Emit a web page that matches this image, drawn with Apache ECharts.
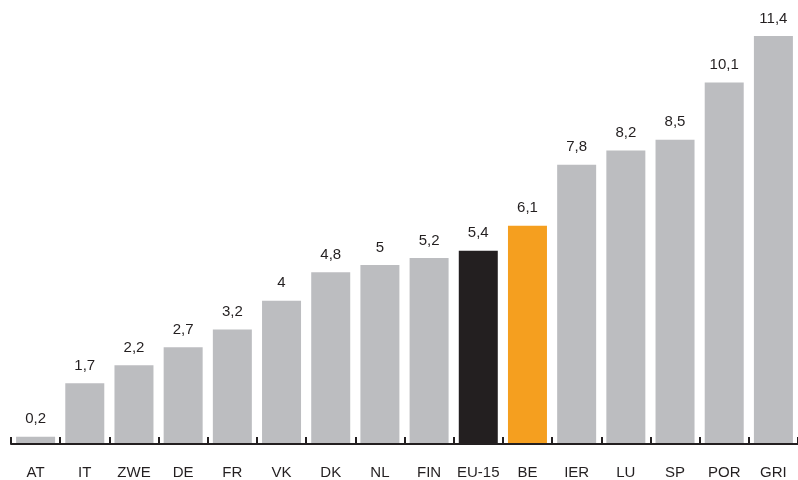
<!DOCTYPE html>
<html><head><meta charset="utf-8">
<script src="https://cdn.jsdelivr.net/npm/echarts@6/dist/echarts.min.js"></script>
<style>html,body{margin:0;padding:0;background:#fff}#c{width:798px;height:480px}</style>
</head><body><div id="c"></div>
<script>
const categories = ["AT","IT","ZWE","DE","FR","VK","DK","NL","FIN","EU-15","BE","IER","LU","SP","POR","GRI"];
const values = [0.2,1.7,2.2,2.7,3.2,4,4.8,5,5.2,5.4,6.1,7.8,8.2,8.5,10.1,11.4];
const highlight = {"EU-15":"#231f20","BE":"#f59f1f"};
const baseColor = "#bcbdc0";

const chart = echarts.init(document.getElementById('c'));
chart.setOption({
  animation:false,
  grid:{left:11,right:-4,top:36,bottom:36},
  xAxis:{type:'category',data:categories,z:10,
    axisLine:{lineStyle:{color:'#231f20',width:2}},
    axisTick:{show:true,inside:true,length:7,interval:0,lineStyle:{color:'#231f20',width:2}},
    axisLabel:{color:'#231f20',fontSize:15,fontFamily:'Liberation Sans, Arial, sans-serif',margin:21,interval:0}},
  yAxis:{type:'value',min:0,max:11.4,show:false,splitLine:{show:false}},
  series:[{type:'bar',barWidth:39,
    data:values.map((v,i)=>({value:v,itemStyle:{color:highlight[categories[i]]||baseColor}})),
    label:{show:true,position:'top',distance:10,color:'#231f20',fontSize:15,
      fontFamily:'Liberation Sans, Arial, sans-serif',
      formatter:p=>String(p.value).replace('.',',')}}]
});
</script></body></html>
